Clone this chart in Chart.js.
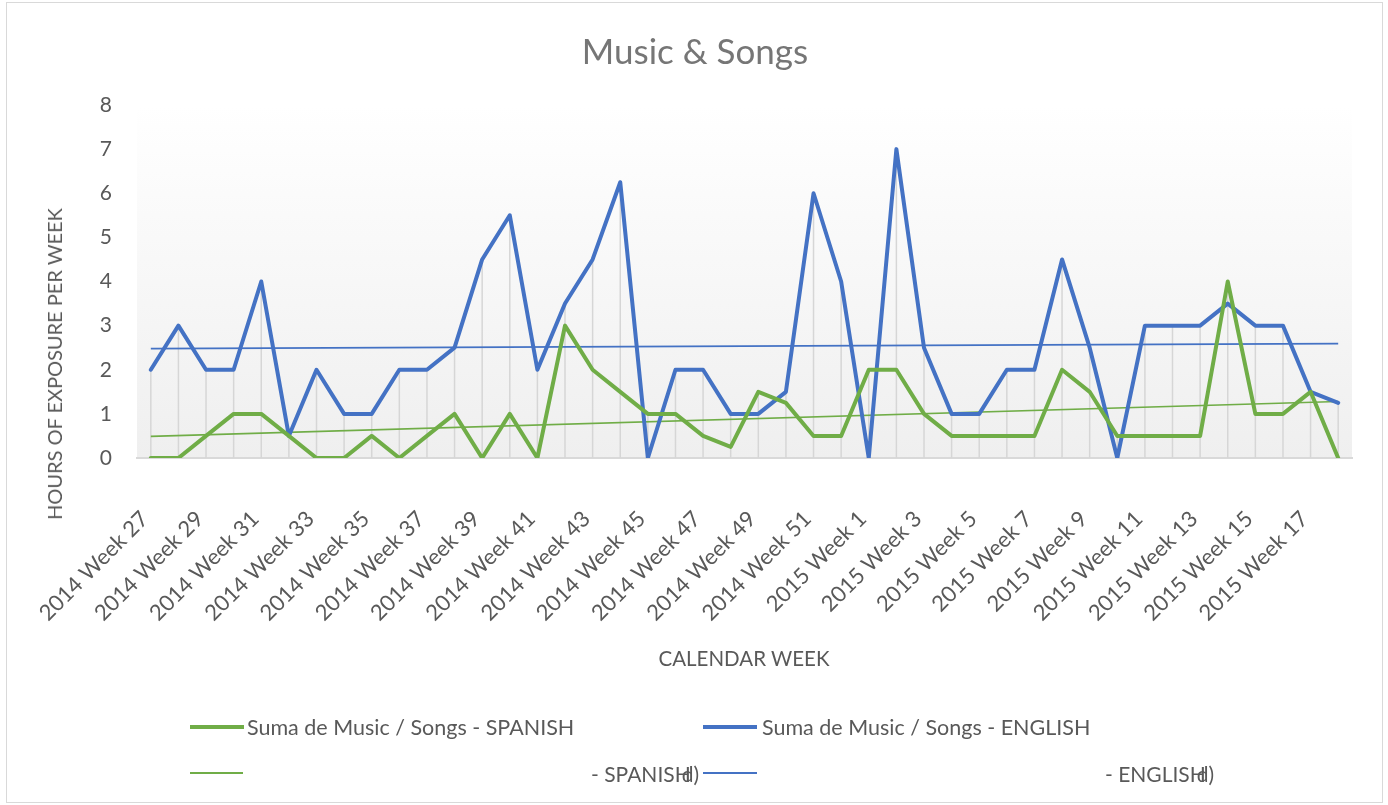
<!DOCTYPE html>
<html><head><meta charset="utf-8">
<script src="https://cdn.jsdelivr.net/npm/chart.js@4.4.1/dist/chart.umd.min.js"></script>
<style>
html,body{margin:0;padding:0;background:#fff;}
#wrap{position:relative;width:1388px;height:805px;font-family:Lato, sans-serif;color:#595959;overflow:hidden;}
#frame{position:absolute;left:6px;top:2px;width:1377px;height:801px;border:1px solid #d9d9d9;box-sizing:border-box;}
canvas{position:absolute;left:0;top:0;}
.t{position:absolute;white-space:nowrap;line-height:1;}
.ln{position:absolute;}
</style></head>
<body>
<div id="wrap">
  <div id="frame"></div>
  <canvas id="c" width="1388" height="805"></canvas>
  <div class="t" id="title" style="left:695px;top:50px;transform:translate(-50%,-50%);font-size:35px;color:#767676;">Music &amp; Songs</div>
  <div class="t" id="ytitle" style="left:54px;top:364px;transform:translate(-50%,-50%) rotate(-90deg);font-size:20px;">HOURS OF EXPOSURE PER WEEK</div>
  <div class="t" id="xtitle" style="left:744px;top:658px;transform:translate(-50%,-50%);font-size:20.5px;">CALENDAR WEEK</div>

  <div class="ln" style="left:190px;top:725px;width:54px;height:4px;background:#70ad47;"></div>
  <div class="t" style="left:247px;top:728px;transform:translateY(-50%);font-size:21.5px;">Suma de Music / Songs - SPANISH</div>
  <div class="ln" style="left:703px;top:725px;width:54px;height:4px;background:#4472c4;"></div>
  <div class="t" style="left:762px;top:728px;transform:translateY(-50%);font-size:21.5px;">Suma de Music / Songs - ENGLISH</div>

  <div class="ln" style="left:190px;top:772px;width:53px;height:2px;background:#70ad47;"></div>
  <div class="t" style="left:591px;top:773px;transform:translateY(-50%);font-size:21px;">- SPANISH<span style="margin-left:-9px;">d)</span></div>
  <div class="ln" style="left:703px;top:772px;width:54px;height:2px;background:#4472c4;"></div>
  <div class="t" style="left:1105px;top:773px;transform:translateY(-50%);font-size:21px;">- ENGLISH<span style="margin-left:-9px;">d)</span></div>
</div>
<script>
const categories = [
  "2014 Week 27","2014 Week 28","2014 Week 29","2014 Week 30","2014 Week 31","2014 Week 32",
  "2014 Week 33","2014 Week 34","2014 Week 35","2014 Week 36","2014 Week 37","2014 Week 38",
  "2014 Week 39","2014 Week 40","2014 Week 41","2014 Week 42","2014 Week 43","2014 Week 44",
  "2014 Week 45","2014 Week 46","2014 Week 47","2014 Week 48","2014 Week 49","2014 Week 50",
  "2014 Week 51","2014 Week 52","2015 Week 1","2015 Week 2","2015 Week 3","2015 Week 4",
  "2015 Week 5","2015 Week 6","2015 Week 7","2015 Week 8","2015 Week 9","2015 Week 10",
  "2015 Week 11","2015 Week 12","2015 Week 13","2015 Week 14","2015 Week 15","2015 Week 16",
  "2015 Week 17","2015 Week 18"
];
const spanish = [
  0, 0, 0.5, 1, 1, 0.5, 0, 0, 0.5, 0, 0.5, 1,
  0, 1, 0, 3, 2, 1.5, 1, 1, 0.5, 0.25, 1.5, 1.25,
  0.5, 0.5, 2, 2, 1, 0.5, 0.5, 0.5, 0.5, 2, 1.5, 0.5,
  0.5, 0.5, 0.5, 4, 1, 1, 1.5, 0
];
const english = [
  2, 3, 2, 2, 4, 0.5, 2, 1, 1, 2, 2, 2.5,
  4.5, 5.5, 2, 3.5, 4.5, 6.25, 0, 2, 2, 1, 1, 1.5,
  6, 4, 0, 7, 2.5, 1, 1, 2, 2, 4.5, 2.5, 0,
  3, 3, 3, 3.5, 3, 3, 1.5, 1.25
];
// trendline endpoints (first week, last week)
const spanishTrend = [0.49, 1.28];
const englishTrend = [2.48, 2.59];
const yTicks = [0,1,2,3,4,5,6,7,8];

const bgPlugin = {
  id:'bg',
  beforeDraw(chart){
    const {ctx, chartArea:a} = chart;
    const g = ctx.createLinearGradient(0, a.top, 0, a.bottom);
    g.addColorStop(0, '#ffffff');
    g.addColorStop(1, '#efefef');
    ctx.save(); ctx.fillStyle = g;
    ctx.fillRect(a.left, a.top, a.right - a.left, a.bottom - a.top);
    ctx.restore();
  }
};
const dropPlugin = {
  id:'drop',
  beforeDatasetsDraw(chart){
    const {ctx, scales:{x, y}} = chart;
    ctx.save(); ctx.strokeStyle = '#d6d6d6'; ctx.lineWidth = 1.5;
    categories.forEach((c, i) => {
      const top = Math.max(spanish[i], english[i]);
      const px = x.getPixelForValue(i);
      ctx.beginPath(); ctx.moveTo(px, y.getPixelForValue(top)); ctx.lineTo(px, y.getPixelForValue(0)); ctx.stroke();
    });
    ctx.restore();
  }
};

new Chart(document.getElementById('c'), {
  type:'line',
  data:{
    labels:categories,
    datasets:[
      {label:'Suma de Music / Songs - SPANISH', data:spanish, borderColor:'#70ad47', borderWidth:4, pointRadius:0, tension:0, borderJoinStyle:'round', borderCapStyle:'round'},
      {label:'Suma de Music / Songs - ENGLISH', data:english, borderColor:'#4472c4', borderWidth:4, pointRadius:0, tension:0, borderJoinStyle:'round', borderCapStyle:'round'},
      {label:'- SPANISH', data:[{x:categories[0], y:spanishTrend[0]},{x:categories[categories.length-1], y:spanishTrend[1]}], borderColor:'#70ad47', borderWidth:1.7, pointRadius:0},
      {label:'- ENGLISH', data:[{x:categories[0], y:englishTrend[0]},{x:categories[categories.length-1], y:englishTrend[1]}], borderColor:'#4472c4', borderWidth:1.7, pointRadius:0}
    ]
  },
  options:{
    responsive:false, animation:false, devicePixelRatio:1,
    layout:{padding:{left:0, right:36, top:105, bottom:147}},
    plugins:{legend:{display:false}, tooltip:{enabled:false}, title:{display:false}},
    scales:{
      x:{
        offset:true,
        grid:{display:false},
        border:{color:'#d9d9d9', width:2},
        ticks:{
          autoSkip:false, maxRotation:45, minRotation:45, labelOffset:-6, padding:40,
          font:{family:'Lato', size:22}, color:'#595959',
          callback:function(v, i){ return i % 2 === 0 ? this.getLabelForValue(v) : ''; }
        },
        afterFit(s){ s.height = 200; s.paddingLeft = 0; s.paddingRight = 0; }
      },
      y:{
        min:0, max:8,
        afterBuildTicks(s){ s.ticks = yTicks.map(v => ({value:v})); },
        grid:{display:false, drawTicks:false},
        border:{display:false},
        ticks:{font:{family:'Lato', size:21}, color:'#595959', padding:25},
        afterFit(s){ s.width = 137; s.paddingTop = 0; s.paddingBottom = 0; }
      }
    }
  },
  plugins:[bgPlugin, dropPlugin]
});
</script>
</body></html>
